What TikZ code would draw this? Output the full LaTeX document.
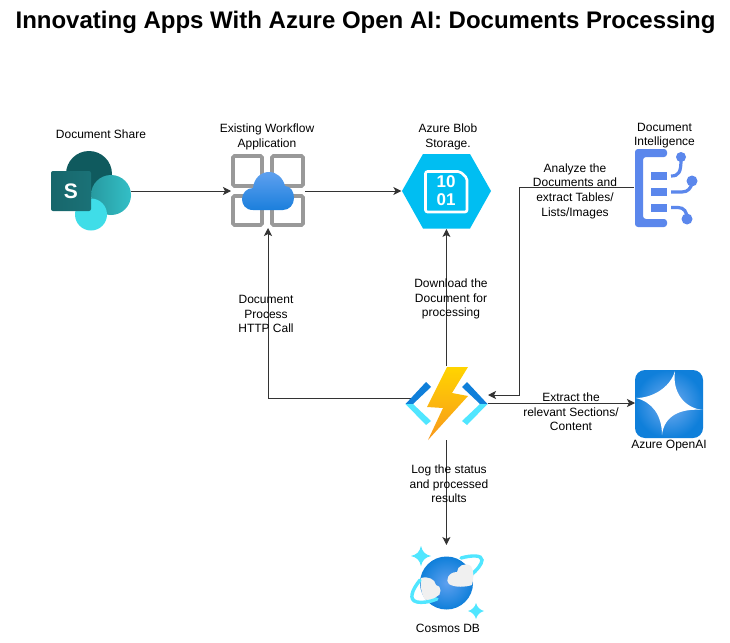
\documentclass[tikz,border=0pt]{standalone}
\usepackage{fontspec}
\setmainfont{Liberation Sans}
\usetikzlibrary{arrows.meta}
\definecolor{spdark}{HTML}{0F5A5E}
\definecolor{spmid}{HTML}{2FB5BC}
\definecolor{splight}{HTML}{3FDDE8}
\definecolor{spbox}{HTML}{17666B}
\definecolor{wfgrey}{HTML}{999999}
\definecolor{cloudtop}{HTML}{5EA0EF}
\definecolor{cloudbot}{HTML}{1B7FDC}
\definecolor{blobcyan}{HTML}{00BEF2}
\definecolor{docblue}{HTML}{5B87EC}
\definecolor{azblue}{HTML}{0F7FDA}
\definecolor{azlight}{HTML}{50E6FF}
\definecolor{boltyel}{HTML}{FFD400}
\definecolor{boltorg}{HTML}{F8981D}
\definecolor{flowline}{HTML}{333333}
\tikzset{
    iconbox/.style 2 args={minimum width=#1,minimum height=#2,inner sep=0pt,outer sep=0pt},
    flow/.style={draw=flowline,line width=1pt,-{Stealth[length=8pt,width=8pt,inset=2pt]}},
    lbl/.style={font=\fontsize{12}{14.6}\selectfont,align=center,inner sep=0pt},
    wfcell/.style={draw=wfgrey,line width=3.6pt,rounded corners=1.5pt},
    docbar/.style={docblue,line width=3.2pt},
    ringline/.style={azlight,line width=3.4pt,line cap=round},
  }

\begin{document}
\begin{tikzpicture}[x=1pt,y=-1pt]
  \useasboundingbox (0,0) rectangle (730,642);
  \fill[white] (0,0) rectangle (730,642);

  \node[font=\bfseries\fontsize{24}{28}\selectfont,inner sep=0pt] (title) at (365.5,22) {Innovating Apps With Azure Open AI: Documents Processing};

  % anchors of the icons
  \node[iconbox={80pt}{80pt}] (share) at (91,191) {};
  \node[iconbox={74pt}{74pt}] (wflow) at (268,191) {};
  \node[iconbox={90pt}{76pt}] (blob) at (446.4,191) {};
  \node[iconbox={76pt}{76pt}] (docint) at (672,187) {};
  \node[iconbox={84pt}{74pt}] (func) at (446.4,403) {};
  \node[iconbox={68pt}{68pt}] (oai) at (669,403) {};
  \node[iconbox={76pt}{76pt}] (cosmos) at (446.4,583) {};

  % sharepoint
  \fill[spdark] (89,174) circle (23);
  \shade[left color=spmid!85!black,right color=spmid!75!splight] (111,195) circle (20);
  \fill[splight] (91,214.5) circle (16);
  \shade[left color=spbox,right color=spbox!85!spmid,rounded corners=2pt] (51,171) rectangle (91,211);
  \node[font=\bfseries\fontsize{21}{21}\selectfont,text=white,inner sep=0pt] (sletter) at (71,191) {S};

  % workflow
  \draw[wfcell] (233,156) rectangle (262,186);
  \draw[wfcell] (272,156) rectangle (303,186);
  \draw[wfcell] (233,196) rectangle (262,225);
  \draw[wfcell] (272,196) rectangle (303,225);
  \shade[top color=cloudtop,bottom color=cloudbot]
    (253,210) .. controls (245,210) and (242,204) .. (242,199)
    .. controls (242,193) and (247,188) .. (253,188)
    .. controls (254,178) and (261,172) .. (269,172)
    .. controls (277,172) and (283,178) .. (285,186)
    .. controls (291,186) and (294,192) .. (294,198)
    .. controls (294,205) and (289,210) .. (283,210) -- cycle;

  % blob
  \fill[blobcyan] (402,191) -- (423,154) -- (470,154) -- (491,191) -- (470,228.5) -- (423,228.5) -- cycle;
  \draw[white,line width=2.6pt,rounded corners=2pt] (425.5,171.5) -- (425.5,212) -- (467,212) -- (467,178) -- (460,171.5) -- cycle;
  \node[font=\bfseries\fontsize{17}{18}\selectfont,text=white,align=center,inner sep=0pt] (bits) at (446,191) {10\\01};

  % document intelligence
  \fill[docblue,rounded corners=3pt] (635,149) -- (667,149) -- (667,157) -- (643,157) -- (643,219) -- (667,219) -- (667,227) -- (635,227) -- cycle;
  \fill[docblue] (651,172) rectangle (667,180);
  \fill[docblue] (651,188) rectangle (667,196);
  \fill[docblue] (651,204) rectangle (667,212);
  \fill[docblue] (681,157) circle (5);
  \fill[docblue] (692,181) circle (5.5);
  \fill[docblue] (687,219) circle (5.5);
  \draw[docbar] (671,176) .. controls (679,176) and (681,172) .. (681,159);
  \draw[docbar] (671,192) -- (682,192) .. controls (688,192) and (691,188) .. (692,183);
  \draw[docbar] (671,207.5) -- (678,207.5) .. controls (684,207.5) and (687,212) .. (687,218);

  % openai
  \shade[inner color=cloudtop!85!white,outer color=azblue,rounded corners=10pt] (635,370) rectangle (703,438);
  \fill[white] (675,371) .. controls (672,392) and (684,408) .. (703,410)
    .. controls (680,408) and (664,416) .. (662,435)
    .. controls (662,415) and (652,402) .. (636,398)
    .. controls (652,398) and (670,388) .. (675,371) -- cycle;

  % connectors
  \draw[flow] (share.east) -- (wflow.west);
  \draw[flow] (wflow.east) -- (blob.west);
  \draw[flow] (func.north) -- (blob.south);
  \draw[flow] (func.west) ++(7,-5) -| (wflow.south);
  \draw[flow] (docint.west) -- (519,187) |- (488,395);
  \draw[flow] (func.east) -- (oai.west);
  \draw[flow] (func.south) -- (cosmos.north);

  % function
  \fill[azblue] (405.5,404) -- (426,382) -- (431,387) -- (413,404) -- cycle;
  \fill[azlight] (405.5,404) -- (413,404) -- (431,421) -- (426,425) -- cycle;
  \fill[azblue] (487.5,404) -- (467,382) -- (462,387) -- (480,404) -- cycle;
  \fill[azlight] (487.5,404) -- (480,404) -- (462,421) -- (467,425) -- cycle;
  \shade[top color=boltyel,bottom color=boltorg]
    (447,367) -- (468,367) -- (452,393) -- (468,396) -- (428,440) -- (443,408) -- (427,407) -- cycle;

  % cosmos
  \draw[ringline] (461,558) .. controls (472,555) and (482,555) .. (482,560) .. controls (482,564) and (477,570) .. (471,575);
  \shade[inner color=cloudtop,outer color=azblue] (446.5,583) circle (26.5);
  \fill[white!94!black] (421,578) .. controls (428,576) and (435,579) .. (436,585)
    .. controls (442,585) and (442,596) .. (436,597) .. controls (433,603) and (428,602) .. (424,598)
    .. controls (421,592) and (420,585) .. (421,578) -- cycle;
  \fill[white!94!black] (471,566) .. controls (465,562) and (457,566) .. (457,572)
    .. controls (448,572) and (445,581) .. (449,584) .. controls (455,588) and (466,587) .. (472,585)
    .. controls (474,578) and (474,571) .. (471,566) -- cycle;
  \draw[ringline] (420,580) .. controls (412,590) and (408,600) .. (417,602)
    .. controls (422,603) and (430,602) .. (437,599);
  \fill[azlight] (421,546) .. controls (422.5,552) and (425,554.5) .. (431,556) .. controls (425,557.5) and (422.5,560) .. (421,566)
    .. controls (419.5,560) and (417,557.5) .. (411,556) .. controls (417,554.5) and (419.5,552) .. (421,546) -- cycle;
  \fill[azlight] (476,603) .. controls (477,607) and (480,610) .. (484,611) .. controls (480,612) and (477,615) .. (476,619)
    .. controls (475,615) and (472,612) .. (468,611) .. controls (472,610) and (475,607) .. (476,603) -- cycle;

  % icon names
  \node[lbl] (sharelbl) at (101,134.5) {Document Share};
  \node[lbl] (wflowlbl) at (267,137) {Existing Workflow\\Application};
  \node[lbl] (bloblbl) at (448,137) {Azure Blob\\Storage.};
  \node[lbl] (docintlbl) at (664.5,135.5) {Document\\Intelligence};
  \node[lbl] (oailbl) at (669,445.5) {Azure OpenAI};
  \node[lbl] (cosmoslbl) at (448,628) {Cosmos DB};

  % connector labels
  \node[lbl] (proclbl) at (266,314) {Document\\Process\\HTTP Call};
  \node[lbl] (dllbl) at (451,299) {Download the\\Document for\\processing};
  \node[lbl] (anlbl) at (575,191) {Analyze the\\Documents and\\extract Tables/\\Lists/Images};
  \node[lbl] (extlbl) at (571,412) {Extract the\\relevant Sections/\\Content};
  \node[lbl] (loglbl) at (449,484) {Log the status\\and processed\\results};
\end{tikzpicture}
\end{document}
